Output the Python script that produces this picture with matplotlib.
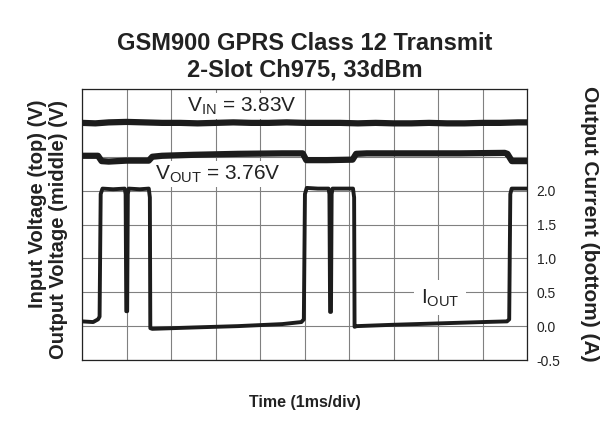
import matplotlib
matplotlib.use("Agg")
import matplotlib.pyplot as plt
import numpy as np

plt.rcParams['font.family'] = ['Liberation Sans', 'DejaVu Sans']
plt.rcParams['mathtext.fontset'] = 'custom'
plt.rcParams['mathtext.rm'] = 'Liberation Sans'
plt.rcParams['mathtext.it'] = 'Liberation Sans'
plt.rcParams['mathtext.bf'] = 'Liberation Sans:bold'

# ---------------- data ----------------
title_text = "GSM900 GPRS Class 12 Transmit\n2-Slot Ch975, 33dBm"
x_label = "Time (1ms/div)"
left_label_top = "Input Voltage (top) (V)"
left_label_mid = "Output Voltage (middle) (V)"
right_label = "Output Current (bottom) (A)"

time_divs = list(range(0, 11))                 # ms, 1 ms/div
current_ticks = [-0.5, 0.0, 0.5, 1.0, 1.5, 2.0]
current_tick_labels = ["-0.5", "0.0", "0.5", "1.0", "1.5", "2.0"]
current_range = (-0.5, 3.5)                    # 0.5 A/div, 8 divisions
voltage_range = (3.34, 3.90)                   # 0.07 V/div, 8 divisions

# input voltage trace (time ms, V)
vin_points = [(0.0, 3.830), (0.3, 3.829), (0.6, 3.831), (1.0, 3.832), (1.4, 3.831),
              (1.8, 3.830), (2.2, 3.830), (2.6, 3.829), (3.0, 3.830), (3.4, 3.831),
              (3.8, 3.830), (4.2, 3.830), (4.6, 3.831), (5.0, 3.830), (5.4, 3.830),
              (5.8, 3.830), (6.2, 3.829), (6.6, 3.830), (7.0, 3.829), (7.4, 3.829),
              (7.8, 3.830), (8.2, 3.829), (8.6, 3.829), (9.0, 3.830), (9.4, 3.830),
              (9.8, 3.831), (10.0, 3.831)]

# output voltage trace (time ms, V)
vout_points = [(0.0, 3.762), (0.36, 3.762), (0.44, 3.751), (0.6, 3.750), (1.0, 3.752),
               (1.5, 3.752), (1.58, 3.760), (1.8, 3.762), (2.5, 3.764), (3.5, 3.766),
               (4.5, 3.767), (4.96, 3.767), (5.04, 3.753), (5.5, 3.753), (6.08, 3.754),
               (6.16, 3.766), (6.4, 3.767), (7.5, 3.767), (8.5, 3.767), (9.5, 3.768),
               (9.56, 3.766), (9.66, 3.751), (10.0, 3.751)]

# output current trace (time ms, A)
iout_points = [(0.00, 0.07), (0.25, 0.06), (0.36, 0.10), (0.395, 0.14), (0.42, 1.95),
               (0.46, 2.03), (0.70, 2.02), (0.96, 2.03), (0.98, 1.95), (0.995, 0.22),
               (1.015, 0.22), (1.03, 1.95), (1.05, 2.03), (1.30, 2.02), (1.50, 2.03),
               (1.525, 1.90), (1.535, -0.03), (1.58, -0.04), (2.5, -0.02), (3.5, 0.00),
               (4.5, 0.03), (4.93, 0.06), (4.985, 0.10), (5.01, 1.95), (5.05, 2.04),
               (5.30, 2.03), (5.54, 2.03), (5.56, 1.95), (5.575, 0.21), (5.595, 0.21),
               (5.61, 1.95), (5.63, 2.03), (5.90, 2.03), (6.09, 2.03), (6.115, 1.90),
               (6.125, -0.01), (6.17, 0.00), (7.0, 0.02), (8.0, 0.04), (9.0, 0.06),
               (9.55, 0.07), (9.60, 0.10), (9.625, 1.95), (9.655, 2.03), (9.70, 2.03),
               (10.0, 2.03)]

vin_label = r"V$_{\mathregular{IN}}$ = 3.83V"
vout_label = r"V$_{\mathregular{OUT}}$ = 3.76V"
iout_label = r"I$_{\mathregular{OUT}}$"

# ---------------- figure ----------------
fig = plt.figure(figsize=(6.09, 4.37), dpi=100)
ax = fig.add_axes([82/609, 1-360/437, 445/609, 271/437])
ax2 = ax.twinx()

ax.set_xlim(time_divs[0], time_divs[-1])
ax.set_ylim(*voltage_range)
ax.set_xticks(time_divs)
ax.set_yticks(np.linspace(voltage_range[0], voltage_range[1], 9))
ax.tick_params(length=0, labelleft=False, labelbottom=False)
ax.set_axisbelow(True)
ax.grid(True, color='#808080', linewidth=0.8)
for s in ax.spines.values():
    s.set_color('#222222')
    s.set_linewidth(0.9)

trace_kw = dict(color='#1c1c1c', solid_joinstyle='round', solid_capstyle='round', zorder=3)
t, v = zip(*vin_points)
ax.plot(t, v, linewidth=4.5, **trace_kw)
t, v = zip(*vout_points)
ax.plot(t, v, linewidth=4.5, **trace_kw)

ax2.set_ylim(*current_range)
ax2.set_yticks(current_ticks)
ax2.set_yticklabels(current_tick_labels)
ax2.tick_params(axis='y', length=0, pad=7, labelsize=10, colors='#222222')
for s in ax2.spines.values():
    s.set_visible(False)
t, a = zip(*iout_points)
ax2.plot(t, a, linewidth=2.8, **trace_kw)

box = dict(facecolor='white', edgecolor='none', pad=1.5)
ax.text(0.36, 0.937, vin_label, transform=ax.transAxes, ha='center', va='center',
        fontsize=15, color='#222222', bbox=box, zorder=2.5)
ax.text(0.305, 0.686, vout_label, transform=ax.transAxes, ha='center', va='center',
        fontsize=15, color='#222222', bbox=box, zorder=2.5)
ax2.text(0.805, 0.229, iout_label, transform=ax2.transAxes, ha='center', va='center',
         fontsize=15, color='#222222', bbox=dict(facecolor='white', edgecolor='none', pad=5),
         zorder=2.5)

fig.text(0.5, 1-57/437, title_text, ha='center', va='center', fontsize=17,
         fontweight='bold', linespacing=1.2, color='#222222')
fig.text(38/609, 1-100/437, left_label_top, ha='center', va='top', rotation=90,
         fontsize=14.5, fontweight='bold', color='#222222')
fig.text(58/609, 1-100/437, left_label_mid, ha='center', va='top', rotation=90,
         fontsize=14.5, fontweight='bold', color='#222222')
fig.text(590/609, 1-224/437, right_label, ha='center', va='center', rotation=270,
         fontsize=15, fontweight='bold', color='#222222')
fig.text(0.5, 1-402/437, x_label, ha='center', va='center', fontsize=11.5,
         fontweight='bold', color='#222222')

fig.savefig("out.png", dpi=100)
